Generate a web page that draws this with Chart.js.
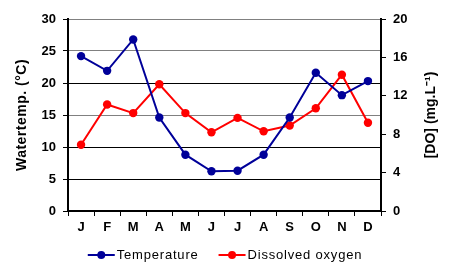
<!DOCTYPE html>
<html><head><meta charset="utf-8">
<script src="https://cdn.jsdelivr.net/npm/chart.js@4/dist/chart.umd.min.js"></script>
<style>html,body{margin:0;padding:0;background:#fff}#wrap{width:450px;height:273px}</style>
</head><body><div id="wrap"><canvas id="c" width="450" height="273"></canvas></div>
<script>
const months = ['J','F','M','A','M','J','J','A','S','O','N','D'];
const temperature = [24.2, 21.9, 26.8, 14.6, 8.8, 6.2, 6.3, 8.8, 14.6, 21.6, 18.1, 20.3];
const dissolvedOxygen = [6.9, 11.1, 10.2, 13.2, 10.2, 8.2, 9.7, 8.3, 8.9, 10.7, 14.2, 9.2];
const leftTicks = [0, 5, 10, 15, 20, 25, 30];
const rightTicks = [0, 4, 8, 12, 16, 20];
const seriesNames = ['Temperature', 'Dissolved oxygen'];
const leftTitle = 'Watertemp. (°C)';
const rightTitle = '[DO] (mg.L\u207B\u00B9)';

const NAVY = '#000099', RED = '#FF0000';
const FONT = 'Arial, "Liberation Sans", sans-serif';

const decorPlugin = {
  id: 'decor',
  afterDraw(chart){
    const ctx = chart.ctx, a = chart.chartArea;
    const midY = (a.top + a.bottom)/2;
    // axis titles (both read bottom-to-top)
    ctx.save();
    ctx.fillStyle = '#000';
    ctx.font = 'bold 14px ' + FONT;
    ctx.letterSpacing = '0.5px';
    ctx.textAlign = 'center'; ctx.textBaseline = 'middle';
    ctx.translate(22, midY);
    ctx.rotate(-Math.PI/2);
    ctx.fillText(leftTitle, 0, 0);
    ctx.restore();
    ctx.save();
    ctx.fillStyle = '#000';
    ctx.font = 'bold 14px ' + FONT;
    ctx.textAlign = 'center'; ctx.textBaseline = 'middle';
    ctx.translate(431, midY);
    ctx.rotate(-Math.PI/2);
    ctx.fillText(rightTitle, 0, 0);
    ctx.restore();
    // legend
    ctx.save();
    ctx.font = '13px ' + FONT;
    ctx.letterSpacing = '0.8px';
    ctx.textBaseline = 'middle';
    const sample = 27, gapText = 2, gapItems = 20, ly = 255;
    const colors = chart.data.datasets.map(d => d.borderColor);
    const names = chart.data.datasets.map(d => d.label);
    const widths = names.map(n => sample + gapText + ctx.measureText(n).width);
    const total = widths.reduce((s,w)=>s+w,0) + gapItems*(names.length-1);
    let x = 225 - total/2;
    names.forEach((n,i)=>{
      ctx.strokeStyle = colors[i]; ctx.lineWidth = 2;
      ctx.beginPath(); ctx.moveTo(x, ly); ctx.lineTo(x+sample, ly); ctx.stroke();
      ctx.fillStyle = colors[i];
      ctx.beginPath(); ctx.arc(x+sample/2, ly, 4, 0, Math.PI*2); ctx.fill();
      ctx.fillStyle = '#000';
      ctx.fillText(n, x + sample + gapText, ly);
      x += widths[i] + gapItems;
    });
    ctx.restore();
  }
};

new Chart(document.getElementById('c'), {
  type: 'line',
  data: {
    labels: months,
    datasets: [
      { label: seriesNames[0], data: temperature, yAxisID: 'y', borderColor: NAVY, backgroundColor: NAVY,
        borderWidth: 2, pointRadius: 4.2, pointHoverRadius: 4.2, pointBackgroundColor: NAVY, pointBorderWidth: 0, tension: 0 },
      { label: seriesNames[1], data: dissolvedOxygen, yAxisID: 'y2', borderColor: RED, backgroundColor: RED,
        borderWidth: 2, pointRadius: 4.2, pointHoverRadius: 4.2, pointBackgroundColor: RED, pointBorderWidth: 0, tension: 0 }
    ]
  },
  options: {
    responsive: false, animation: false, devicePixelRatio: 1,
    layout: { padding: { top: 19, bottom: 32, left: 0, right: 0 } },
    plugins: { tooltip: { enabled: false }, legend: { display: false } },
    scales: {
      x: {
        offset: true,
        grid: { offset: true, drawOnChartArea: false, tickLength: 5, tickColor: '#000' },
        border: { color: '#000', width: 2 },
        ticks: { font: { family: FONT, size: 13, weight: 'bold' }, color: '#000', padding: 4, maxRotation: 0, autoSkip: false },
        afterFit(s){ s.height = 30; }
      },
      y: {
        position: 'left', min: 0, max: 30,
        afterBuildTicks(s){ s.ticks = leftTicks.map(v=>({value:v})); },
        grid: {
          tickLength: 5, tickColor: '#000', lineWidth: 1,
          color: c => (c.tick && (c.tick.value === 25 || c.tick.value === 15 || c.tick.value === 30)) ? '#808080' : '#000'
        },
        border: { color: '#000', width: 2 },
        ticks: { font: { family: FONT, size: 13, weight: 'bold' }, color: '#000', padding: 7 },
        afterFit(s){ s.width = 68; }
      },
      y2: {
        position: 'right', min: 0, max: 20,
        afterBuildTicks(s){ s.ticks = rightTicks.map(v=>({value:v})); },
        grid: { drawOnChartArea: false, tickLength: 5, tickColor: '#000' },
        border: { color: '#000', width: 2 },
        ticks: { font: { family: FONT, size: 13, weight: 'bold' }, color: '#000', padding: 7 },
        afterFit(s){ s.width = 69; }
      }
    }
  },
  plugins: [decorPlugin]
});
</script></body></html>
